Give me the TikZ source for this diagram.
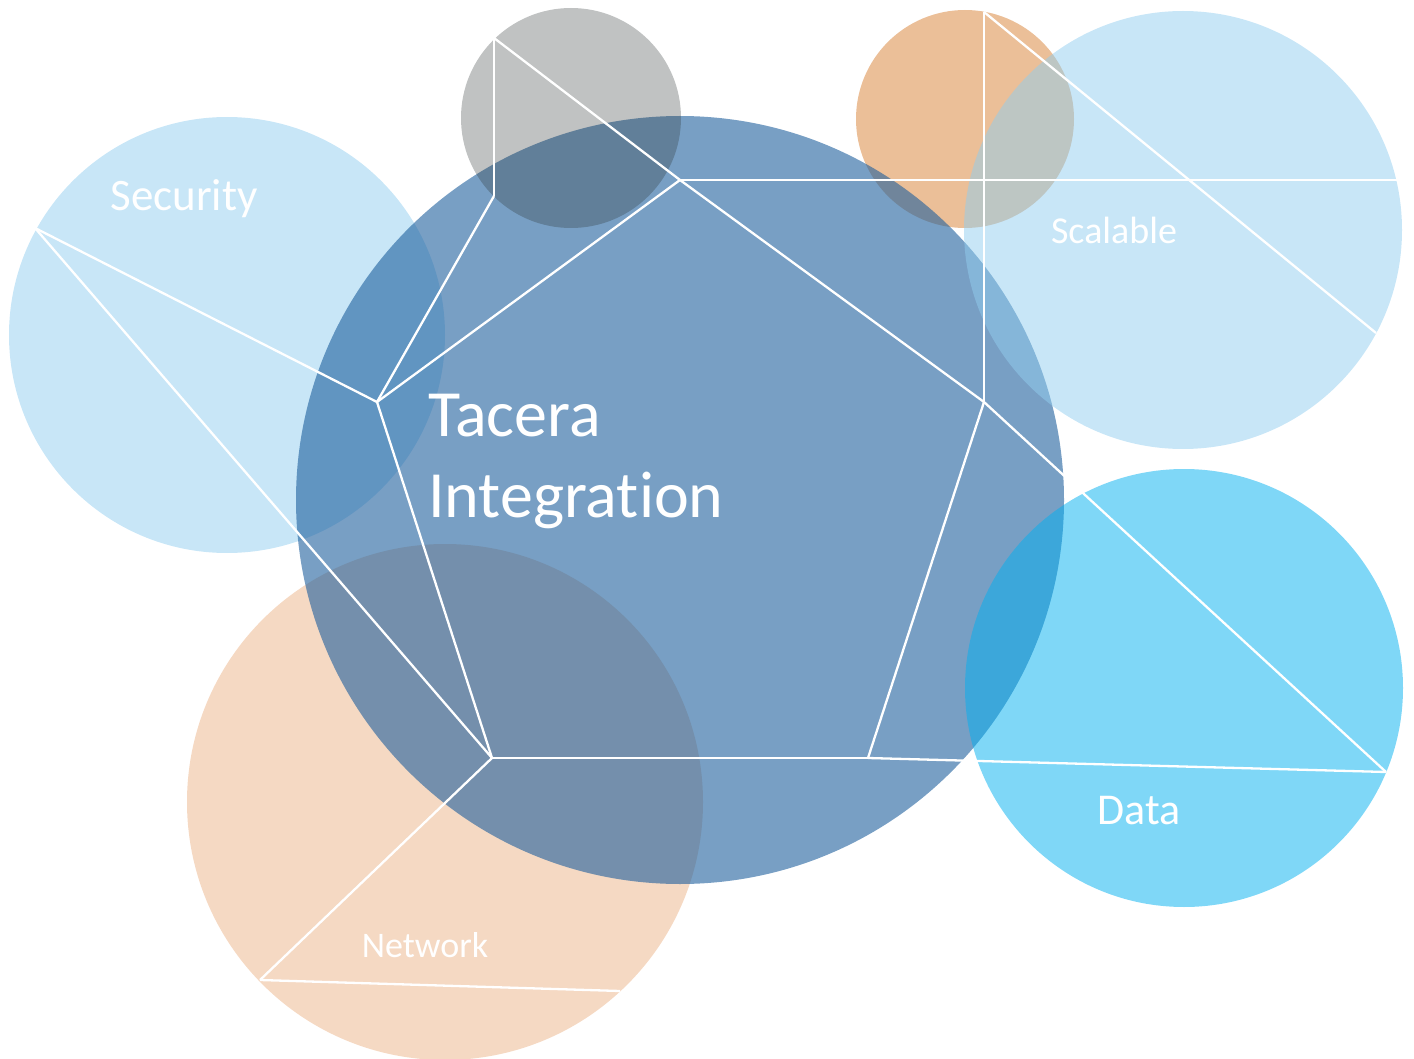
\documentclass[tikz,border=0pt]{standalone}
\usepackage{fontspec}
\setmainfont{Carlito}[Ligatures=NoCommon]
\definecolor{deepblue}{RGB}{30,95,157}
\definecolor{skyblue}{RGB}{145,205,239}
\definecolor{cyanblue}{RGB}{0,176,240}
\definecolor{darkgrey}{RGB}{45,52,52}
\definecolor{apricot}{RGB}{235,191,152}
\definecolor{peach}{RGB}{245,217,195}
\begin{document}
\begin{tikzpicture}[x=1pt,y=-1pt,
		bubble/.style={circle, inner sep=0pt, minimum size=#1},
		caption/.style={text=white, inner sep=0pt, anchor=base},
		every edge/.style={draw=white, line width=2.3pt, line join=round}]
		\useasboundingbox (0,0) rectangle (1414,1059);
		\node (security) [bubble=436pt, fill=skyblue, fill opacity=0.5] at (227,335) {};
		\node (network) [bubble=516pt, fill=peach] at (445,802) {};
		\node (orange) [bubble=218pt, fill=apricot] at (965,119) {};
		\node (hub) [bubble=768pt, fill=deepblue, fill opacity=0.6] at (680,500) {};
		\node (grey) [bubble=220pt, fill=darkgrey, fill opacity=0.3] at (571,118) {};
		\node (scalable) [bubble=438pt, fill=skyblue, fill opacity=0.5] at (1183,230) {};
		\node (data) [bubble=438pt, fill=cyanblue, fill opacity=0.5] at (1184,688) {};
		\coordinate (1) at (680,180);
		\coordinate (2) at (984,402);
		\coordinate (3) at (868,758);
		\coordinate (4) at (492,758);
		\coordinate (5) at (377,402);
		\coordinate (g1) at (494,38);
		\coordinate (g2) at (494,196);
		\coordinate (s1) at (35,228);
		\coordinate (n1) at (260,980);
		\coordinate (n2) at (620,991);
		\coordinate (d1) at (1386,772);
		\coordinate (o1) at (984,12);
		\coordinate (c1) at (1376,333);
		\coordinate (c2) at (1397,180);
		\path
		(1) edge (2)
		(2) edge (3)
		(3) edge (4)
		(4) edge (5)
		(5) edge (1)
		(5) edge (g2)
		(g2) edge (g1)
		(g1) edge (1)
		(5) edge (s1)
		(s1) edge (4)
		(4) edge (n1)
		(n1) edge (n2)
		(3) edge (d1)
		(2) edge (d1)
		(1) edge (c2)
		(2) edge (o1)
		(o1) edge (c1);
		\node (title) [text=white, inner sep=0pt, anchor=north west, align=left,
			font=\fontsize{66}{81}\selectfont] at (428,394) {Tacera\\Integration};
		\node (securitytext) [caption, font=\fontsize{45}{54}\selectfont] at (184,211) {Security};
		\node (scalabletext) [caption, font=\fontsize{38}{46}\selectfont] at (1114,244) {Scalable};
		\node (datatext) [caption, font=\fontsize{44}{53}\selectfont] at (1139,824) {Data};
		\node (networktext) [caption, font=\fontsize{36}{43}\selectfont] at (425,957) {Network};
	\end{tikzpicture}
\end{document}
